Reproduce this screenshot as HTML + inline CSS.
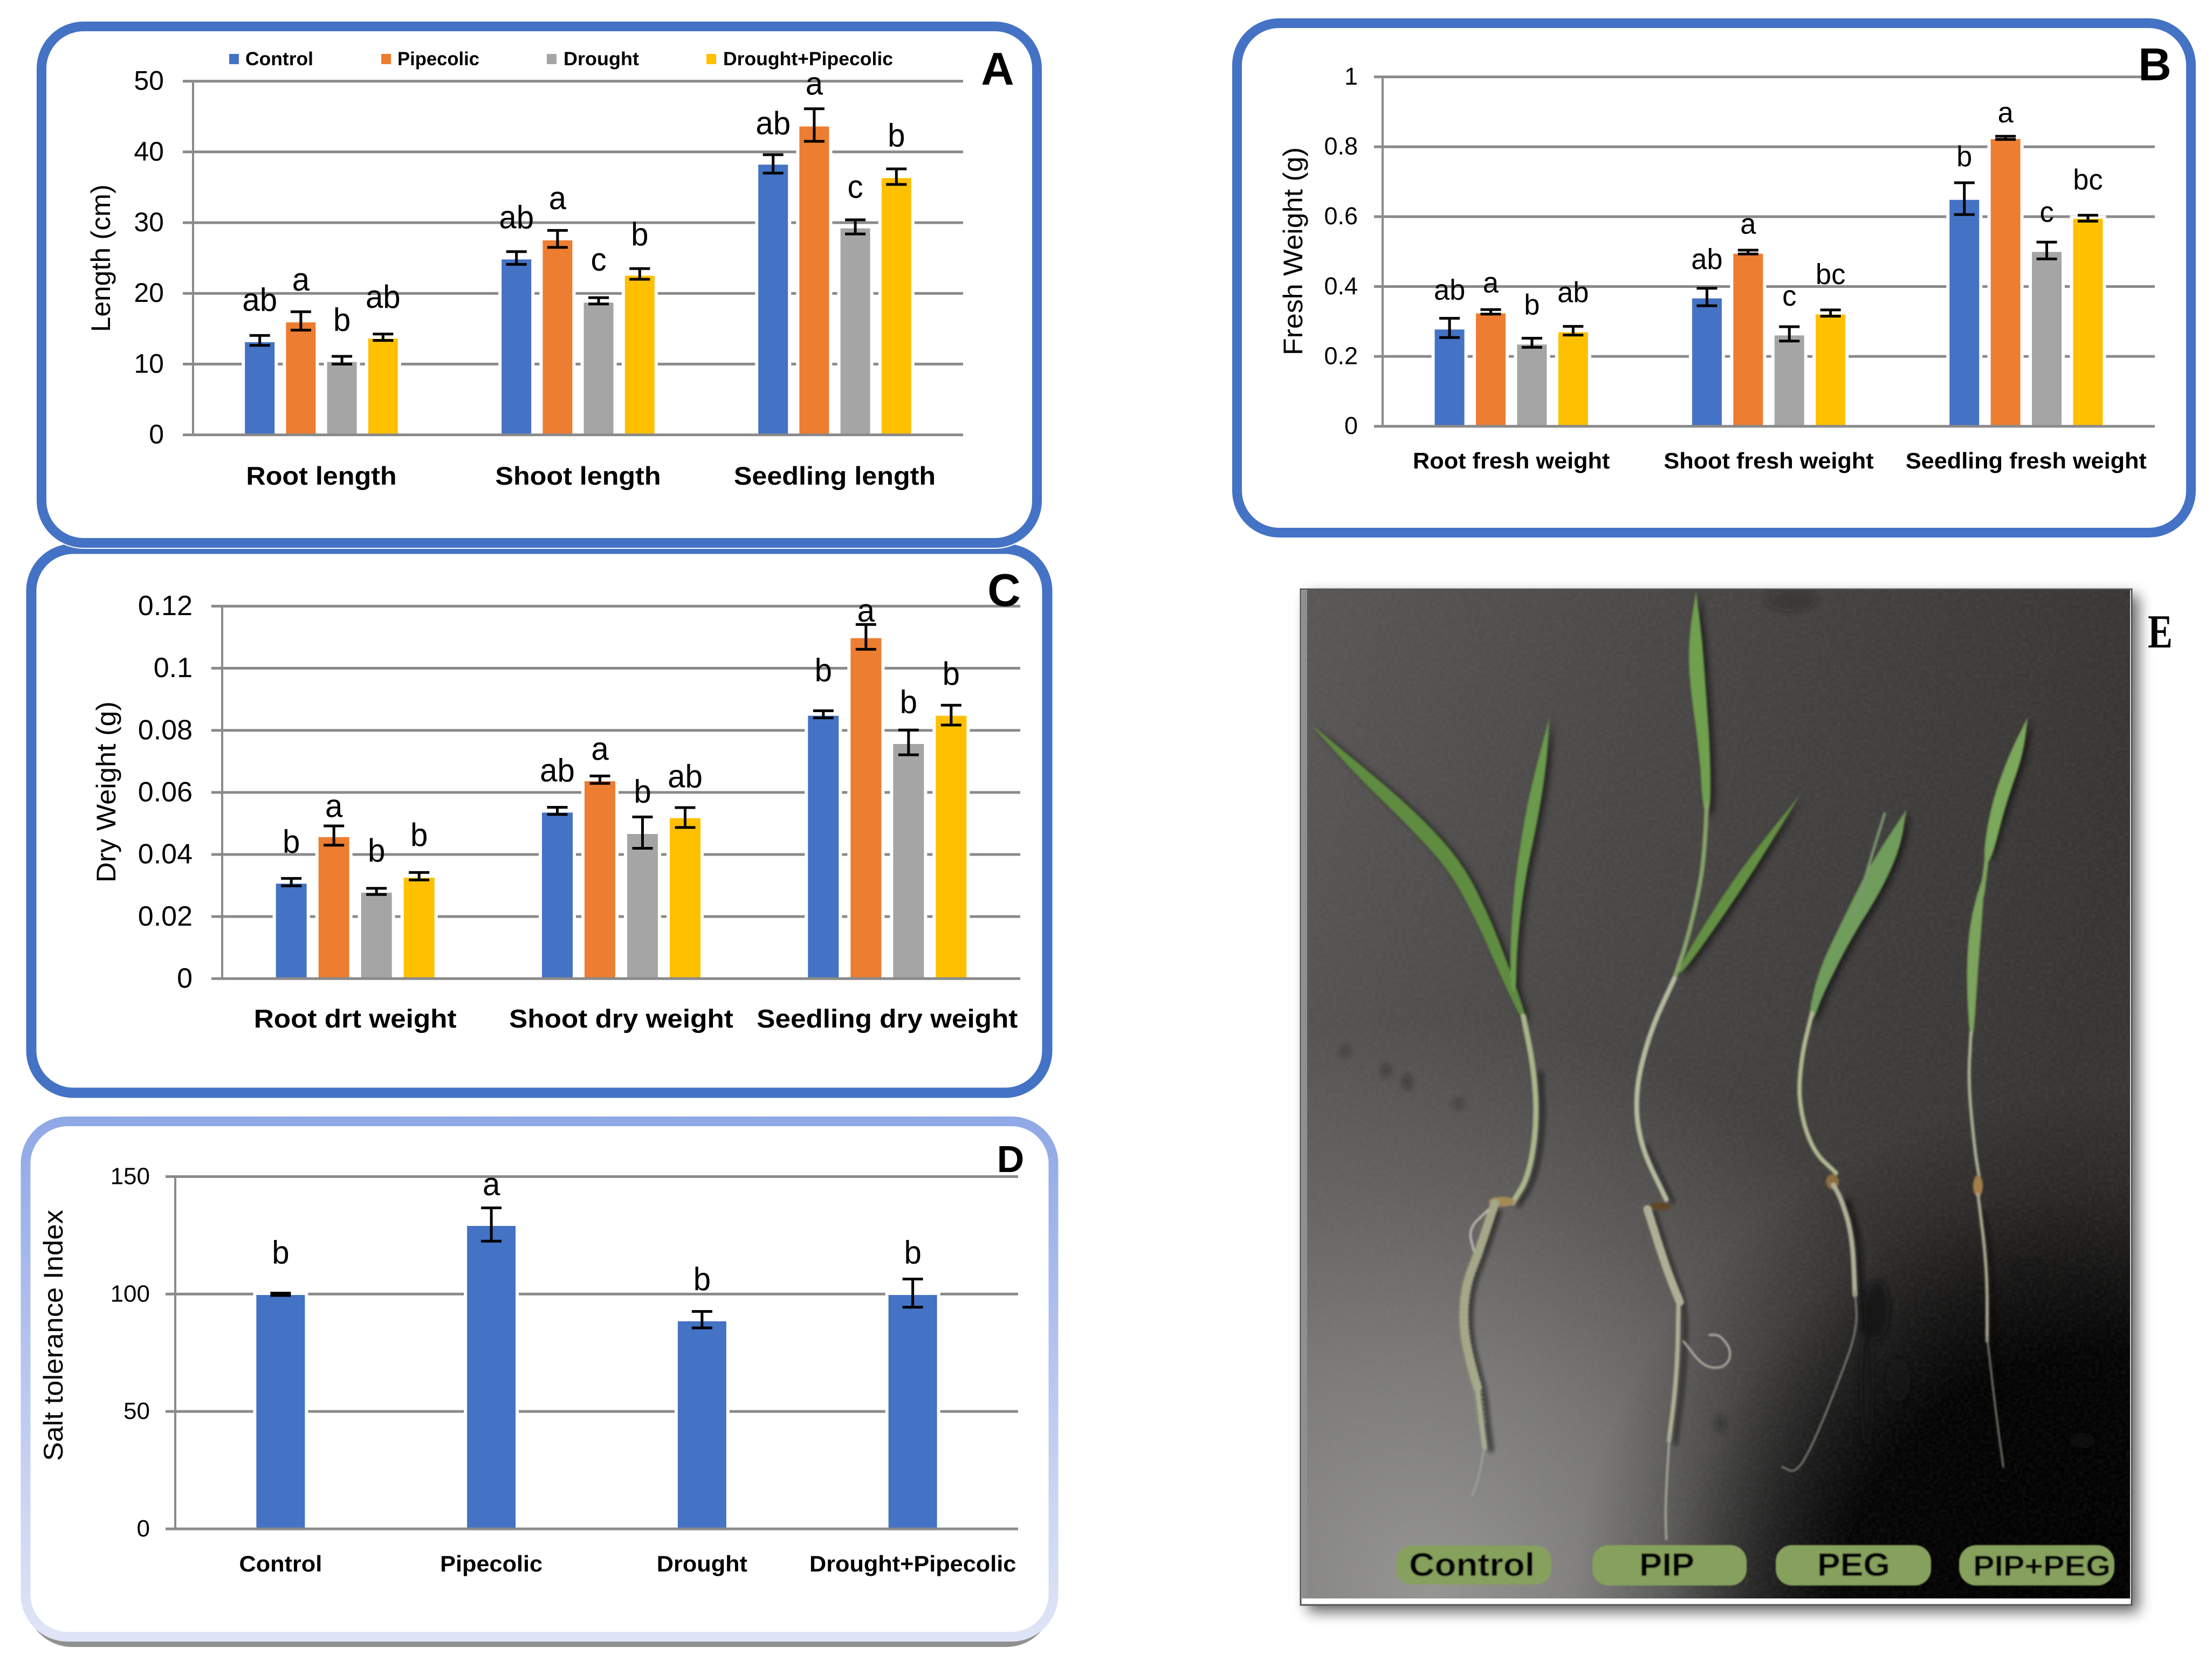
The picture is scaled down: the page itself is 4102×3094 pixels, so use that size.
<!DOCTYPE html>
<html lang="en">
<head>
<meta charset="utf-8">
<title>Seedling growth under drought and pipecolic acid</title>
<style>
html,body{margin:0;padding:0;background:#fff;width:4102px;height:3094px;overflow:hidden}
svg{display:block}
text{font-family:"Liberation Sans",sans-serif;fill:#000}
</style>
</head>
<body>
<svg id="figure" xmlns="http://www.w3.org/2000/svg" width="4102" height="3094" viewBox="0 0 4102 3094">
  <defs>
    <linearGradient id="dBorder" gradientUnits="userSpaceOnUse" x1="0" y1="2072" x2="0" y2="3045">
      <stop offset="0" stop-color="#8fa8e6"/><stop offset="0.5" stop-color="#b9c7ef"/><stop offset="1" stop-color="#e0e5f6"/>
    </linearGradient>
    <linearGradient id="photoBase" gradientUnits="userSpaceOnUse" x1="2424" y1="1094" x2="3950" y2="1400">
      <stop offset="0" stop-color="#5a5856"/><stop offset="0.4" stop-color="#4b4948"/><stop offset="1" stop-color="#383634"/>
    </linearGradient>
    <radialGradient id="photoLight" gradientUnits="userSpaceOnUse" cx="2650" cy="2950" r="1060">
      <stop offset="0" stop-color="#b0b0ae" stop-opacity="0.74"/><stop offset="0.4" stop-color="#b0b0ae" stop-opacity="0.46"/><stop offset="0.7" stop-color="#b0b0ae" stop-opacity="0.2"/><stop offset="1" stop-color="#b0b0ae" stop-opacity="0"/>
    </radialGradient>
    <radialGradient id="photoDark" gradientUnits="userSpaceOnUse" cx="3900" cy="3000" r="980">
      <stop offset="0" stop-color="#000" stop-opacity="1"/><stop offset="0.5" stop-color="#000" stop-opacity="0.93"/><stop offset="0.65" stop-color="#000" stop-opacity="0.62"/><stop offset="0.82" stop-color="#000" stop-opacity="0.22"/><stop offset="1" stop-color="#000" stop-opacity="0"/>
    </radialGradient>
    <filter id="soft" x="-5%" y="-5%" width="110%" height="110%"><feGaussianBlur stdDeviation="1.8"/></filter>
    <filter id="softer" x="-20%" y="-20%" width="140%" height="140%"><feGaussianBlur stdDeviation="6"/></filter>
    <filter id="rootShadowBlur" x="-20%" y="-20%" width="140%" height="140%"><feGaussianBlur stdDeviation="4"/></filter>
    <filter id="frameShadow" x="-5%" y="-5%" width="110%" height="110%"><feGaussianBlur stdDeviation="13"/></filter>
    <filter id="pillBlur" x="-5%" y="-5%" width="110%" height="110%"><feGaussianBlur stdDeviation="1"/></filter>
    <filter id="grain" x="0" y="0" width="100%" height="100%">
      <feTurbulence type="fractalNoise" baseFrequency="0.14" numOctaves="2" seed="4"/>
      <feColorMatrix type="matrix" values="0 0 0 0 0.32  0 0 0 0 0.32  0 0 0 0 0.32  0.5 0.5 0 0 -0.38"/>
    </filter>
    <clipPath id="photoClip"><rect x="2424" y="1094" width="1526" height="1871"/></clipPath>
  </defs>

  <g>
    <rect x="2294" y="43" width="1769" height="945" rx="78" ry="78" fill="#fff" stroke="#4472c4" stroke-width="18"/>
    <rect x="58" y="1018" width="1884" height="1009" rx="78" ry="78" fill="#fff" stroke="#4472c4" stroke-width="19"/>
    <rect x="77" y="49" width="1846" height="958" rx="78" ry="78" fill="#fff" stroke="#fff" stroke-width="22"/>
    <rect x="77" y="49" width="1846" height="958" rx="78" ry="78" fill="#fff" stroke="#4472c4" stroke-width="18"/>
    <rect x="48" y="2100" width="1904" height="955" rx="86" ry="86" fill="#909090"/>
    <rect x="47.5" y="2080" width="1906" height="956" rx="78" ry="78" fill="#fff" stroke="url(#dBorder)" stroke-width="18"/>
  </g>

  <g id="charts"></g>

  <g>
    <g>
      <rect x="425" y="100" width="18" height="19" fill="#4472c4"/>
      <text x="455" y="121" font-size="35" font-weight="700" textLength="126" lengthAdjust="spacingAndGlyphs">Control</text>
    </g>
    <g>
      <rect x="707" y="100" width="18" height="19" fill="#ed7d31"/>
      <text x="737" y="121" font-size="35" font-weight="700" textLength="152" lengthAdjust="spacingAndGlyphs">Pipecolic</text>
    </g>
    <g>
      <rect x="1014" y="100" width="18" height="19" fill="#a5a5a5"/>
      <text x="1045" y="121" font-size="35" font-weight="700" textLength="140" lengthAdjust="spacingAndGlyphs">Drought</text>
    </g>
    <g>
      <rect x="1310" y="100" width="18" height="19" fill="#ffc000"/>
      <text x="1341" y="121" font-size="35" font-weight="700" textLength="315" lengthAdjust="spacingAndGlyphs">Drought+Pipecolic</text>
    </g>
  </g>

  <g>
    <text x="1850" y="157" font-size="85" font-weight="700" text-anchor="middle">A</text>
    <text x="3996" y="149" font-size="85" font-weight="700" text-anchor="middle">B</text>
    <text x="1862" y="1124" font-size="85" font-weight="700" text-anchor="middle">C</text>
    <text x="1874" y="2174" font-size="70" font-weight="700" text-anchor="middle">D</text>
    <text transform="translate(3983 1201) scale(0.78 1)" font-size="88" font-weight="700" style="font-family:'Liberation Serif',serif">E</text>
  </g>

  <g>
    <rect x="2425" y="1104" width="1541" height="1886" fill="#000" opacity="0.6" filter="url(#frameShadow)"/>
    <rect x="2412" y="1093" width="1541" height="1884" fill="#fff" stroke="#555" stroke-width="3"/>
    <rect x="2414" y="1095" width="10" height="1870" fill="#8f8f8f"/>
    <g clip-path="url(#photoClip)">
      <rect x="2424" y="1094" width="1526" height="1871" fill="url(#photoBase)"/>
      <rect x="2424" y="1094" width="1526" height="1871" fill="url(#photoLight)"/>
      <rect x="2424" y="1094" width="1526" height="1871" fill="url(#photoDark)"/>
      <rect x="2424" y="1094" width="1526" height="1871" filter="url(#grain)" opacity="0.22"/>
      <g filter="url(#softer)" fill="#161616">
        <ellipse cx="3480" cy="2430" rx="24" ry="55" opacity="0.7"/>
        <ellipse cx="3462" cy="2570" rx="9" ry="110" opacity="0.9"/>
        <ellipse cx="3520" cy="2560" rx="22" ry="40" opacity="0.4"/>
        <ellipse cx="3762" cy="2355" rx="24" ry="12" opacity="0.8"/>
        <ellipse cx="3862" cy="2672" rx="24" ry="14" opacity="0.7"/>
        <ellipse cx="3322" cy="1114" rx="48" ry="20" opacity="0.3"/>
        <ellipse cx="3190" cy="2640" rx="10" ry="14" opacity="0.4"/>
        <ellipse cx="2495" cy="1949" rx="7" ry="10" opacity="0.45"/>
        <ellipse cx="2570" cy="1986" rx="7" ry="11" opacity="0.5"/>
        <ellipse cx="2610" cy="2007" rx="7" ry="13" opacity="0.5"/>
        <ellipse cx="2705" cy="2047" rx="10" ry="8" opacity="0.4"/>
      </g>
      <g filter="url(#softer)" opacity="0.55" fill="#000" transform="translate(8 4)">
        <polygon class="smooth" points="2430,1343 2525,1420 2630,1510 2712,1600 2762,1700 2800,1798 2832,1890 2822,1894 2782,1808 2738,1708 2688,1615 2610,1530 2515,1438"/>
        <polygon class="smooth" points="2873,1331 2868,1420 2852,1520 2826,1640 2812,1766 2812,1840 2802,1840 2800,1766 2808,1640 2830,1500 2852,1410"/>
        <polygon class="smooth" points="3145,1098 3156,1180 3162,1260 3172,1400 3172,1509 3158,1509 3152,1400 3132,1260 3132,1180"/>
        <polygon class="smooth" points="3338,1474 3262,1600 3190,1708 3118,1808 3110,1800 3172,1696 3240,1596"/>
        <polygon class="smooth" points="3535,1502 3525,1570 3490,1650 3430,1745 3378,1850 3362,1895 3352,1890 3372,1800 3420,1700 3470,1600"/>
        <polygon class="smooth" points="3760,1331 3752,1400 3720,1490 3690,1590 3680,1595 3690,1500 3725,1400"/>
      </g>
      <g filter="url(#rootShadowBlur)" fill="none" stroke="#111" stroke-linecap="round" stroke-linejoin="round" opacity="0.6" transform="translate(12 4)">
        <polyline class="smooth" stroke-width="9" points="2845,1986 2850,2084 2835,2182 2805,2231"/>
        <polyline class="smooth" stroke-width="10" points="2767,2244 2743,2320 2717,2386 2713,2462 2727,2529 2740,2574 2747,2640 2753,2685"/>
        <polyline class="smooth" stroke-width="7" points="3040,2121 3090,2225"/>
        <polyline class="smooth" stroke-width="8" points="3055,2243 3090,2353 3115,2415 3110,2549 3095,2672"/>
        <polyline class="smooth" stroke-width="12" points="3415,2225 3435,2292 3440,2402 3445,2464"/>
        <polyline class="smooth" stroke-width="4" points="3668,2243 3685,2353 3685,2488 3700,2611"/>
      </g>
      <g filter="url(#soft)" fill="none" stroke-linecap="round" stroke-linejoin="round">
        <g>
          <polygon class="smooth" fill="#5f8c40" points="2430,1343 2525,1420 2630,1510 2712,1600 2762,1700 2800,1798 2832,1890 2822,1894 2782,1808 2738,1708 2688,1615 2610,1530 2515,1438"/>
          <polygon class="smooth" fill="#6a9a4c" points="2873,1331 2868,1420 2852,1520 2826,1640 2812,1766 2812,1840 2802,1840 2800,1766 2808,1640 2830,1500 2852,1410"/>
          <polyline class="smooth" stroke="#a9b68a" stroke-width="10" points="2825,1885 2845,1986 2850,2084 2835,2182 2805,2231"/>
          <ellipse cx="2785" cy="2229" rx="24" ry="9" fill="#a68a55"/>
          <polyline class="smooth" stroke="#a4a888" stroke-width="16" points="2772,2232 2743,2320 2717,2386 2713,2462 2727,2529 2740,2574"/>
          <polyline class="smooth" stroke="#a8ac90" stroke-width="9" points="2738,2560 2747,2640 2753,2685"/>
          <polyline class="smooth" stroke="#a5a69a" stroke-width="3" points="2753,2680 2743,2739 2730,2775"/>
          <polyline class="smooth" stroke="#a4a888" stroke-width="22" stroke-dasharray="2 7" stroke-linecap="butt" opacity="0.5" points="2743,2320 2717,2386 2713,2462 2727,2529 2740,2574 2747,2640"/>
          <polyline class="smooth" stroke="#c0c0b4" stroke-width="4" points="2760,2244 2723,2279 2733,2320"/>
        </g>
        <g>
          <polygon class="smooth" fill="#6fa04e" points="3145,1098 3156,1180 3162,1260 3172,1400 3172,1509 3158,1509 3152,1400 3132,1260 3132,1180"/>
          <polygon class="smooth" fill="#648f42" points="3338,1474 3262,1600 3190,1708 3118,1808 3110,1800 3172,1696 3240,1596"/>
          <polyline class="smooth" stroke="#86a268" stroke-width="8" points="3165,1490 3162,1560 3155,1631 3130,1741 3105,1815"/>
          <polyline class="smooth" stroke="#b5bb9e" stroke-width="9" points="3105,1815 3060,1913 3032,2023 3040,2121 3090,2225"/>
          <ellipse cx="3078" cy="2238" rx="20" ry="7" fill="#5f4726"/>
          <polyline class="smooth" stroke="#aeb096" stroke-width="15" points="3055,2243 3090,2353 3115,2415"/>
          <polyline class="smooth" stroke="#aeb096" stroke-width="8" points="3113,2400 3110,2549 3095,2672"/>
          <polyline class="smooth" stroke="#a7a89a" stroke-width="4" points="3096,2660 3088,2794 3090,2855"/>
          <polyline class="smooth" stroke="#b9b9ac" stroke-width="3.5" points="3122,2488 3160,2537 3200,2537 3212,2507 3190,2476 3170,2476"/>
        </g>
        <g>
          <polygon class="smooth" fill="#6f9c5c" points="3535,1502 3525,1570 3490,1650 3430,1745 3378,1850 3362,1895 3352,1890 3372,1800 3420,1700 3470,1600"/>
          <polyline class="smooth" stroke="#7a9870" stroke-width="5" points="3495,1509 3470,1590 3440,1692"/>
          <polyline class="smooth" stroke="#b0b890" stroke-width="8" points="3360,1880 3340,1962 3335,2047 3360,2133 3405,2176"/>
          <ellipse cx="3398" cy="2192" rx="12" ry="14" fill="#8c6c3c"/>
          <polyline class="smooth" stroke="#aeb096" stroke-width="9" points="3400,2198 3415,2225 3435,2292 3440,2402"/>
          <polyline class="smooth" stroke="#8a8a82" stroke-width="3" points="3440,2395 3445,2464 3410,2562 3360,2684 3330,2733 3305,2721"/>
        </g>
        <g>
          <polygon class="smooth" fill="#7ba85b" points="3760,1331 3752,1400 3720,1490 3692,1600 3676,1600 3690,1500 3725,1400"/>
          <polyline stroke="#7ca45c" stroke-width="8" points="3687,1570 3676,1660"/>
          <polygon class="smooth" fill="#7ca45c" points="3682,1610 3676,1700 3668,1800 3660,1925 3652,1925 3646,1800 3654,1700"/>
          <polyline class="smooth" stroke="#a8ae92" stroke-width="6" points="3655,1915 3650,2010 3662,2133 3670,2182"/>
          <ellipse cx="3668" cy="2200" rx="9" ry="20" fill="#a27f48"/>
          <polyline class="smooth" stroke="#a8a58e" stroke-width="6" points="3668,2215 3685,2353 3685,2488"/>
          <polyline class="smooth" stroke="#8d8c7e" stroke-width="3" points="3685,2480 3700,2611 3715,2721"/>
        </g>
      </g>
      <g filter="url(#pillBlur)">
        <rect x="2589" y="2867" width="288" height="72" rx="28" fill="#86a05d"/>
        <text x="2613" y="2923" font-size="60" font-weight="700" textLength="233" lengthAdjust="spacingAndGlyphs">Control</text>
        <rect x="2953" y="2866" width="286" height="75" rx="30" fill="#86a05d"/>
        <text x="3040" y="2923" font-size="60" font-weight="700" textLength="102" lengthAdjust="spacingAndGlyphs">PIP</text>
        <rect x="3293" y="2866" width="288" height="75" rx="30" fill="#86a05d"/>
        <text x="3370" y="2923" font-size="60" font-weight="700" textLength="135" lengthAdjust="spacingAndGlyphs">PEG</text>
        <rect x="3633" y="2866" width="288" height="75" rx="32" fill="#86a05d"/>
        <text x="3659" y="2923" font-size="54" font-weight="700" textLength="255" lengthAdjust="spacingAndGlyphs">PIP+PEG</text>
      </g>
    </g>
  </g>
</svg>

<script>
// ----- Panel A: length (cm) -----
const lengthCategories = ['Root length', 'Shoot length', 'Seedling length'];
const lengthTicks = ['0', '10', '20', '30', '40', '50'];
const lengthValues = [[13.1, 24.8, 38.2], [15.9, 27.5, 43.6], [10.3, 18.7, 29.2], [13.6, 22.5, 36.3]];
const lengthErrUp = [[0.95, 1.1, 1.4], [1.5, 1.4, 2.5], [0.8, 0.7, 1.2], [0.65, 1.0, 1.3]];
const lengthErrDown = [[0.45, 0.7, 1.2], [1.1, 1.0, 2.1], [0.3, 0.2, 0.8], [0.25, 0.5, 0.9]];
const lengthLetters = [['ab', 'ab', 'ab'], ['a', 'a', 'a'], ['b', 'c', 'c'], ['ab', 'b', 'b']];
const lengthLetterLift = [[3.5, 3.3, 2.9], [3.0, 3.0, 2.0], [3.6, 3.8, 3.1], [3.7, 3.3, 3.2]];

// ----- Panel B: fresh weight (g) -----
const freshCategories = ['Root fresh weight', 'Shoot fresh weight', 'Seedling fresh weight'];
const freshTicks = ['0', '0.2', '0.4', '0.6', '0.8', '1'];
const freshValues = [[0.277, 0.366, 0.648], [0.323, 0.494, 0.822], [0.234, 0.26, 0.499], [0.269, 0.32, 0.594]];
const freshErrUp = [[0.032, 0.029, 0.049], [0.011, 0.01, 0.008], [0.018, 0.025, 0.028], [0.017, 0.013, 0.01]];
const freshErrDown = [[0.023, 0.021, 0.042], [0.002, 0.001, 0.001], [0.008, 0.016, 0.02], [0.008, 0.005, 0.007]];
const freshLetters = [['ab', 'ab', 'b'], ['a', 'a', 'a'], ['b', 'c', 'c'], ['ab', 'bc', 'bc']];
const freshLetterLift = [[0.053, 0.055, 0.047], [0.049, 0.047, 0.04], [0.068, 0.06, 0.058], [0.069, 0.074, 0.074]];

// ----- Panel C: dry weight (g) -----
const dryCategories = ['Root drt weight', 'Shoot dry weight', 'Seedling dry weight'];
const dryTicks = ['0', '0.02', '0.04', '0.06', '0.08', '0.1', '0.12'];
const dryValues = [[0.0306, 0.0535, 0.0847], [0.0456, 0.0636, 0.1097], [0.0277, 0.0466, 0.0756], [0.0325, 0.0517, 0.0847]];
const dryErrUp = [[0.0017, 0.0017, 0.0016], [0.0036, 0.0017, 0.0044], [0.0014, 0.0055, 0.0045], [0.0017, 0.0034, 0.0034]];
const dryErrDown = [[0.0007, 0.0006, 0.0007], [0.0026, 0.0007, 0.0036], [0.0006, 0.0046, 0.0035], [0.0007, 0.003, 0.003]];
const dryLetters = [['b', 'ab', 'b'], ['a', 'a', 'a'], ['b', 'b', 'b'], ['b', 'ab', 'b']];
const dryLetterLift = [[0.0083, 0.0083, 0.0095], [0.0029, 0.0052, 0.0009], [0.0086, 0.0047, 0.0055], [0.0086, 0.0065, 0.0066]];

// ----- Panel D: salt tolerance index -----
const saltCategories = ['Control', 'Pipecolic', 'Drought', 'Drought+Pipecolic'];
const saltTicks = ['0', '50', '100', '150'];
const saltValues = [[99.6, 129, 88.4, 99.6]];
const saltErrUp = [[0.8, 7.7, 4.2, 6.8]];
const saltErrDown = [[0.2, 6.5, 2.8, 5.2]];
const saltLetters = [['b', 'a', 'b', 'b']];
const saltLetterLift = [[12.7, 5.4, 9.1, 6.6]];

const seriesColors = ['#4472c4', '#ed7d31', '#a5a5a5', '#ffc000'];
const gridColor = '#8a8a8a';
const NS = 'http://www.w3.org/2000/svg';
const chartsRoot = document.getElementById('charts');

function make(tag, parent) {
  const node = document.createElementNS(NS, tag);
  parent.appendChild(node);
  return node;
}

function set(node, props) {
  for (const key in props) node.setAttribute(key, props[key]);
  return node;
}

function label(parent, str, x, y, size, weight, anchor, sx) {
  const t = make('text', parent);
  set(t, { transform: 'translate(' + x + ' ' + y + ') scale(' + sx + ' 1)', 'font-size': size, 'font-weight': weight, 'text-anchor': anchor });
  t.textContent = str;
  return t;
}

function drawChart(L, categories, ticks, values, errUp, errDown, letters, lifts, title) {
  const panel = make('g', chartsRoot);
  
  

  const maxTick = parseFloat(ticks[ticks.length - 1]);
  const yOf = function (v) { return L.bottom - (v / maxTick) * (L.bottom - L.top); };
  const catWidth = (L.right - L.left) / categories.length;
  const xOf = function (c, s) { return L.left + catWidth * (c + 0.5) + (s - (values.length - 1) / 2) * L.step; };

  const yAxis = make('line', panel);
  
  
  set(yAxis, { x1: L.left, x2: L.left, y1: L.top, y2: L.bottom, stroke: gridColor, 'stroke-width': 4 });

  ticks.forEach(function (tick) {
    const v = parseFloat(tick);
    if (v !== 0) {
      const grid = make('line', panel);
      
      
      set(grid, { x1: L.gridLeft, x2: L.right, y1: yOf(v), y2: yOf(v), stroke: gridColor, 'stroke-width': 5 });
    }
    const tl = label(panel, tick, L.tickRight, yOf(v) + L.tickSize * 0.32, L.tickSize, 400, 'end', 1);
    
    
  });

  values.forEach(function (series, s) {
    series.forEach(function (v, c) {
      const halo = make('rect', panel);
      
      
      set(halo, { x: xOf(c, s) - L.barW / 2 - 6, y: yOf(v) - 6, width: L.barW + 12, height: L.bottom - yOf(v) + 6, fill: '#fff' });
    });
  });

  values.forEach(function (series, s) {
    series.forEach(function (v, c) {
      const bar = make('rect', panel);
      
      
      set(bar, { x: xOf(c, s) - L.barW / 2, y: yOf(v), width: L.barW, height: L.bottom - yOf(v), fill: seriesColors[s] });
    });
  });

  const zero = make('line', panel);
  
  
  set(zero, { x1: L.gridLeft, x2: L.right, y1: L.bottom, y2: L.bottom, stroke: gridColor, 'stroke-width': 5 });

  values.forEach(function (series, s) {
    series.forEach(function (v, c) {
      const x = xOf(c, s);
      const hi = yOf(v + errUp[s][c]);
      const lo = yOf(v - errDown[s][c]);
      const err = make('path', panel);
      
      
      set(err, { d: 'M' + x + ' ' + hi + 'V' + lo + 'M' + (x - 19) + ' ' + hi + 'H' + (x + 19) + 'M' + (x - 19) + ' ' + lo + 'H' + (x + 19), stroke: '#000', 'stroke-width': 5, fill: 'none' });

      const letter = label(panel, letters[s][c], x, yOf(v + errUp[s][c] + lifts[s][c]), L.letterSize, 400, 'middle', 0.97);
      
      
    });
  });

  categories.forEach(function (cat, c) {
    const cl = label(panel, cat, L.left + catWidth * (c + 0.5), L.catY, L.catSize, 700, 'middle', L.catSx);
    
    
  });

  const yt = make('text', panel);
  
  
  set(yt, { transform: 'translate(' + L.titleX + ' ' + L.titleY + ') rotate(-90)', 'font-size': L.titleSize, 'text-anchor': 'middle', textLength: L.titleLen, lengthAdjust: 'spacingAndGlyphs' });
  yt.textContent = title;
}

drawChart(
  { name: 'length', left: 358, right: 1786, top: 150.6, bottom: 806.6, gridLeft: 339, barW: 55, step: 76.2, tickRight: 304, tickSize: 50, catY: 899, catSize: 47, catSx: 1.07, letterSize: 60, titleX: 204, titleY: 479, titleSize: 50, titleLen: 274 },
  lengthCategories, lengthTicks, lengthValues, lengthErrUp, lengthErrDown, lengthLetters, lengthLetterLift, 'Length (cm)'
);
drawChart(
  { name: 'fresh-weight', left: 2564, right: 3996, top: 142.6, bottom: 790.7, gridLeft: 2548, barW: 55, step: 76.4, tickRight: 2518, tickSize: 45, catY: 869, catSize: 42, catSx: 1.03, letterSize: 54, titleX: 2415, titleY: 466, titleSize: 50, titleLen: 386 },
  freshCategories, freshTicks, freshValues, freshErrUp, freshErrDown, freshLetters, freshLetterLift, 'Fresh Weight (g)'
);
drawChart(
  { name: 'dry-weight', left: 412, right: 1892, top: 1124.4, bottom: 1815.3, gridLeft: 392, barW: 57, step: 79, tickRight: 357, tickSize: 52, catY: 1906, catSize: 48, catSx: 1.068, letterSize: 60, titleX: 214, titleY: 1469, titleSize: 50, titleLen: 336 },
  dryCategories, dryTicks, dryValues, dryErrUp, dryErrDown, dryLetters, dryLetterLift, 'Dry Weight (g)'
);
drawChart(
  { name: 'salt-tolerance', left: 325, right: 1888, top: 2182.5, bottom: 2836, gridLeft: 307, barW: 90, step: 0, tickRight: 278, tickSize: 44, catY: 2915, catSize: 42, catSx: 1.03, letterSize: 60, titleX: 116, titleY: 2477, titleSize: 50, titleLen: 466 },
  saltCategories, saltTicks, saltValues, saltErrUp, saltErrDown, saltLetters, saltLetterLift, 'Salt tolerance Index'
);

// Round off the hand-traced photo outlines (corner cutting keeps the end points and leaf tips sharp).
document.querySelectorAll('.smooth').forEach(function (shape) {
  let pts = shape.getAttribute('points').trim().split(/\s+/).map(function (p) { return p.split(',').map(Number); });
  if (shape.tagName.toLowerCase() === 'polygon') pts.push(pts[0]);
  for (let pass = 0; pass < 3; pass++) {
    const out = [pts[0]];
    for (let i = 0; i < pts.length - 1; i++) {
      const a = pts[i];
      const b = pts[i + 1];
      out.push([a[0] * 0.75 + b[0] * 0.25, a[1] * 0.75 + b[1] * 0.25]);
      out.push([a[0] * 0.25 + b[0] * 0.75, a[1] * 0.25 + b[1] * 0.75]);
    }
    out.push(pts[pts.length - 1]);
    pts = out;
  }
  shape.setAttribute('points', pts.map(function (p) { return p[0].toFixed(1) + ',' + p[1].toFixed(1); }).join(' '));
});
</script>
</body>
</html>
